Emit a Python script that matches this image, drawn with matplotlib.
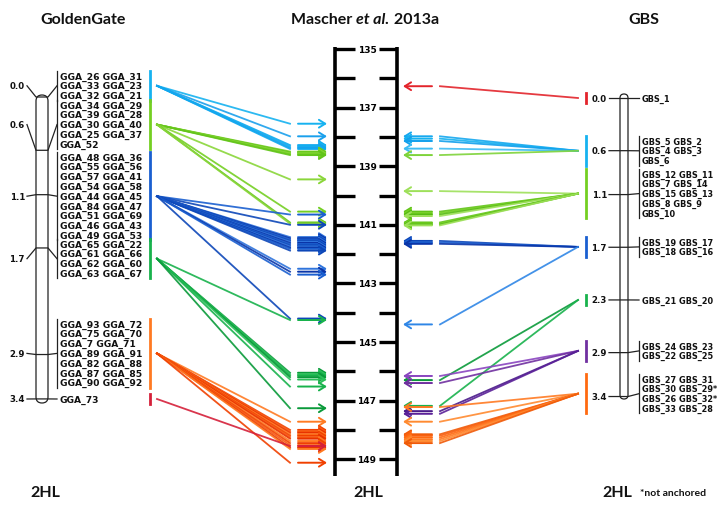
import matplotlib.pyplot as plt
from matplotlib.patches import FancyBboxPatch

# --- map data -------------------------------------------------------------
# GoldenGate map (cM) and the Mascher et al. position (cM) of every marker
gg_pos = [0.0, 0.6, 1.1, 1.7, 2.9, 3.4]
gg_names = [
    ["GGA_26", "GGA_31", "GGA_33", "GGA_23", "GGA_32", "GGA_21"],
    ["GGA_34", "GGA_29", "GGA_39", "GGA_28", "GGA_30", "GGA_40", "GGA_25", "GGA_37", "GGA_52"],
    ["GGA_48", "GGA_36", "GGA_55", "GGA_56", "GGA_57", "GGA_41", "GGA_54", "GGA_58", "GGA_44",
     "GGA_45", "GGA_84", "GGA_47", "GGA_51", "GGA_69", "GGA_46", "GGA_43", "GGA_49", "GGA_53"],
    ["GGA_65", "GGA_22", "GGA_61", "GGA_66", "GGA_62", "GGA_60", "GGA_63", "GGA_67"],
    ["GGA_93", "GGA_72", "GGA_75", "GGA_70", "GGA_7", "GGA_71", "GGA_89", "GGA_91", "GGA_82",
     "GGA_88", "GGA_87", "GGA_85", "GGA_90", "GGA_92"],
    ["GGA_73"],
]
gg_mascher = [
    [137.55, 137.98, 138.28, 138.32, 138.37, 138.41],
    [138.5, 138.53, 138.56, 138.59, 138.62, 139.45, 140.55, 140.92, 140.96],
    [140.65, 141.0, 141.42, 141.46, 141.5, 141.54, 141.58, 141.62, 141.66,
     141.7, 141.74, 141.78, 141.82, 141.88, 142.5, 142.6, 142.7, 144.2],
    [144.25, 146.05, 146.1, 146.15, 146.2, 146.28, 146.52, 147.26],
    [147.72, 148.0, 148.05, 148.1, 148.15, 148.2, 148.25, 148.3, 148.38,
     148.45, 148.52, 148.6, 148.65, 149.12],
    [148.55],
]

# GBS map (cM) and Mascher et al. positions
gbs_pos = [0.0, 0.6, 1.1, 1.7, 2.3, 2.9, 3.4]
gbs_names = [
    ["GBS_1"],
    ["GBS_5", "GBS_2", "GBS_4", "GBS_3", "GBS_6"],
    ["GBS_12", "GBS_11", "GBS_7", "GBS_14", "GBS_15", "GBS_13", "GBS_8", "GBS_9", "GBS_10"],
    ["GBS_19", "GBS_17", "GBS_18", "GBS_16"],
    ["GBS_21", "GBS_20"],
    ["GBS_24", "GBS_23", "GBS_22", "GBS_25"],
    ["GBS_27", "GBS_31", "GBS_30", "GBS_29*", "GBS_26", "GBS_32*", "GBS_33", "GBS_28"],
]
gbs_mascher = [
    [136.27],
    [137.98, 138.06, 138.14, 138.4, 138.62],
    [139.85, 140.55, 140.6, 140.65, 140.7, 140.92, 140.96, 140.99, 141.02],
    [141.55, 141.6, 141.65, 144.4],
    [146.3, 147.18],
    [146.16, 146.4, 147.36, 147.45],
    [147.22, 147.72, 148.15, 148.2, 148.26, 148.32, 148.38, 148.45],
]

mascher_ticks = list(range(135, 150))

# colours per linkage group
gg_shades = [
    ["#16b2f0", "#1aa0ec", "#0fa8ef"],
    ["#74cf22", "#62c41a", "#8ad63a"],
    ["#1a5fd0", "#0d47b8", "#2f74dc", "#0a35a8"],
    ["#18b24c", "#0a9a3a", "#2cc05a"],
    ["#ff7a22", "#f04000", "#f85a10", "#e83300"],
    ["#d5203a"],
]
gbs_shades = [
    ["#e3242b"],
    ["#16a8ef", "#16b2f0", "#12a0ec", "#3ebcf3", "#7ed33a"],
    ["#9ee05a", "#62c41a", "#74cf22", "#56bb14"],
    ["#0d47b8", "#1a5fd0", "#0a35a8", "#2f86e6"],
    ["#0a9a3a", "#18b24c"],
    ["#8a45c0", "#7030a0", "#4a1a8a", "#5a2098"],
    ["#ff7a22", "#ff8a30", "#f05a08", "#f86010", "#ff6a10"],
]
gg_bar = ["#16b2f0", "#74cf22", "#1a5fd0", "#18b24c", "#ff7a22", "#d5203a"]
gbs_bar = ["#e3242b", "#16b2f0", "#74cf22", "#1a5fd0", "#18b24c", "#7030a0", "#ff6a10"]

gg_row0 = [77, 106, 158, 245, 325, 400]
gbs_row0 = [99, 142, 175, 243, 301, 347, 380]
row_h = 9.8


def mascher_y(cm):
    return 50 + (cm - 135) * 29.3


def gg_y(cm):
    return 98 + cm * 88.8


def gbs_y(cm):
    return 99 + cm * 87.8


W, H = 723, 506
fig = plt.figure(figsize=(W / 100, H / 100), dpi=100)
ax = fig.add_axes([0, 0, 1, 1])
ax.set_xlim(0, W)
ax.set_ylim(H, 0)
ax.axis("off")

lbl_font = dict(fontsize=6.6, fontweight="bold", family="DejaVu Sans", color="#111")
gbs_font = dict(fontsize=5.9, fontweight="bold", family="DejaVu Sans", color="#111")
cm_font = dict(fontsize=6.2, fontweight="bold", family="DejaVu Sans", color="#111")
k_col = "#222222"


def arrow(x0, x1, y, c):
    ax.annotate("", xy=(x1, y), xytext=(x0, y),
                arrowprops=dict(arrowstyle="->,head_length=0.45,head_width=0.28",
                                color=c, lw=1.4, shrinkA=0, shrinkB=0))


# --- GoldenGate chromosome -------------------------------------------------
ax.add_patch(FancyBboxPatch((36, 96), 12, 308, boxstyle="round,pad=0,rounding_size=6",
                            fill=False, ec=k_col, lw=0.9))
for i, p in enumerate(gg_pos):
    names = gg_names[i]
    rows = [" ".join(names[j:j + 2]) for j in range(0, len(names), 2)]
    top = gg_row0[i]
    bot = top + (len(rows) - 1) * row_h
    mid = (top + bot) / 2
    py = gg_y(p)
    ax.plot([27, 36, 48, 57], [mid, py, py, mid], color=k_col, lw=0.9)
    if len(rows) > 1:
        ax.plot([57, 57], [top - 5, bot + 5], color=k_col, lw=0.9)
    ax.text(25, mid, f"{p:.1f}", ha="right", va="center", **cm_font)
    for r, t in enumerate(rows):
        ax.text(60, top + r * row_h, t, ha="left", va="center", **lbl_font)
    ax.plot([150, 150], [top - 5, bot + 5], color=gg_bar[i], lw=2)

    for k, m in enumerate(gg_mascher[i]):
        c = gg_shades[i][k % len(gg_shades[i])]
        my = mascher_y(m)
        ax.plot([157, 290], [mid, my], color=c, lw=1.3, alpha=0.9)
        arrow(298, 327, my, c)

# --- Mascher et al. scale ----------------------------------------------------
ax.plot([335, 335], [48, 477], color="black", lw=2.6, solid_capstyle="butt")
ax.plot([397, 397], [48, 477], color="black", lw=2.6, solid_capstyle="butt")
for t in mascher_ticks:
    y = mascher_y(t)
    ax.plot([335, 355], [y, y], color="black", lw=2.4, solid_capstyle="butt")
    ax.plot([379, 397], [y, y], color="black", lw=2.4, solid_capstyle="butt")
    if t % 2 == 1:
        ax.text(367, y, str(t), ha="center", va="center", fontsize=6.5,
                fontweight="bold", family="DejaVu Sans")

# --- GBS chromosome ----------------------------------------------------------
ax.add_patch(FancyBboxPatch((620, 95), 8, 305, boxstyle="round,pad=0,rounding_size=4",
                            fill=False, ec=k_col, lw=0.9))
for i, p in enumerate(gbs_pos):
    names = gbs_names[i]
    rows = [" ".join(names[j:j + 2]) for j in range(0, len(names), 2)]
    top = gbs_row0[i]
    bot = top + (len(rows) - 1) * row_h
    mid = (top + bot) / 2
    py = gbs_y(p)
    ax.plot([609, 620, 628, 639], [py, py, py, mid], color=k_col, lw=0.9)
    if len(rows) > 1:
        ax.plot([639, 639], [top - 5, bot + 5], color=k_col, lw=0.9)
    ax.text(607, py, f"{p:.1f}", ha="right", va="center", **cm_font)
    for r, t in enumerate(rows):
        ax.text(642, top + r * row_h, t, ha="left", va="center", **gbs_font)
    ax.plot([586, 586], [top - 5, bot + 5], color=gbs_bar[i], lw=2)

    for k, m in enumerate(gbs_mascher[i]):
        c = gbs_shades[i][k % len(gbs_shades[i])]
        my = mascher_y(m)
        ax.plot([578, 440], [mid, my], color=c, lw=1.3, alpha=0.9)
        arrow(432, 403, my, c)

# --- headings ---------------------------------------------------------------
head = dict(fontsize=11.5, fontweight="bold", family="Lato", color="#111")
ax.text(83, 20, "GoldenGate", ha="center", va="center", **head)
ax.text(644, 20, "GBS", ha="center", va="center", **head)

renderer = fig.canvas.get_renderer()
parts = [("Mascher ", "normal"), ("et al.", "italic"), (" 2013a", "normal")]
pieces = []
for s, st in parts:
    pieces.append(ax.text(0, 20, s, ha="left", va="center", style=st, **head))
widths = []
inv = ax.transData.inverted()
for tx in pieces:
    bb = tx.get_window_extent(renderer)
    x0 = inv.transform((bb.x0, 0))[0]
    x1 = inv.transform((bb.x1, 0))[0]
    widths.append(x1 - x0)
x = 365 - sum(widths) / 2
for tx, w in zip(pieces, widths):
    tx.set_x(x)
    x += w

for xc in [45, 368, 617]:
    ax.text(xc, 493, "2HL", ha="center", va="center", **head)
ax.text(640, 494, "*not anchored", ha="left", va="center", fontsize=7.5,
        family="Lato", fontweight="bold", color="#111")

fig.savefig("out.png", dpi=100)
